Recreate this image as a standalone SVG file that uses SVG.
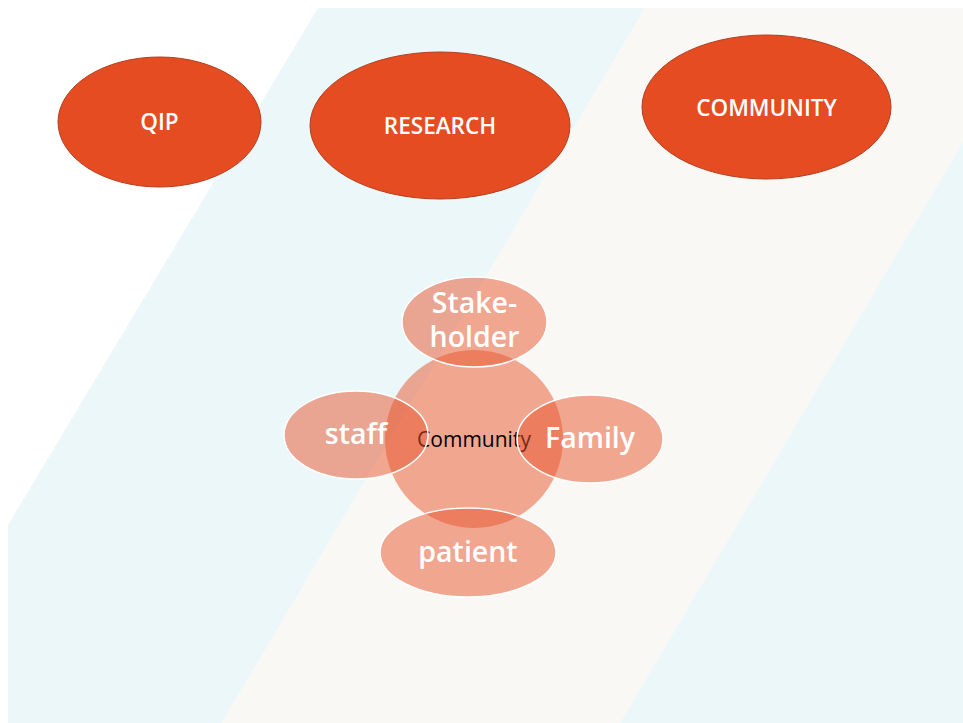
<svg xmlns="http://www.w3.org/2000/svg" width="963" height="723" viewBox="0 0 963 723">
<style>
.top{fill:#e54c22;stroke:#b53d1c;stroke-width:1}
.toplbl{font-family:"Open Sans","Noto Sans",sans-serif;font-weight:600;font-size:22.5px;fill:#ffffff;text-anchor:middle}
.hub{fill:#e8532c;fill-opacity:0.5;stroke:none}
.sat{fill:#e8532c;fill-opacity:0.5;stroke:#ffffff;stroke-width:1.5}
.satlbl{font-family:"Open Sans","Noto Sans",sans-serif;font-weight:600;font-size:28.5px;fill:#ffffff;text-anchor:middle}
.hublbl{font-family:"Open Sans","Noto Sans",sans-serif;font-size:21px;fill:#000000;text-anchor:middle}
</style>
<rect x="0" y="0" width="963" height="723" fill="#ffffff"/>
<g id="background">
<polygon points="318,8 645,8 222,723 8,723 8,525" fill="#ebf7f9"/>
<polygon points="645,8 963,8 963,142 620,723 222,723" fill="#faf8f4"/>
<polygon points="963,142 963,723 620,723" fill="#ebf7f9"/>
</g>
<g id="qip">
<ellipse class="top" cx="159.5" cy="122" rx="101.5" ry="65"/>
<text class="toplbl" x="159.5" y="130">QIP</text>
</g>
<g id="research">
<ellipse class="top" cx="440" cy="125.5" rx="130" ry="73.5"/>
<text class="toplbl" x="440" y="133.5">RESEARCH</text>
</g>
<g id="community-top">
<ellipse class="top" cx="766.5" cy="107" rx="124.5" ry="72"/>
<text class="toplbl" x="766.5" y="115.5">COMMUNITY</text>
</g>
<g id="connectors"></g>
<g id="community-hub">
<circle class="hub" cx="474" cy="439" r="89"/>
<text class="hublbl" x="474" y="446.5">Community</text>
</g>
<g id="stakeholder">
<ellipse class="sat" cx="474.5" cy="322" rx="72.5" ry="45"/>
<text class="satlbl" x="474.5" y="313">Stake-</text>
<text class="satlbl" x="474.5" y="347">holder</text>
</g>
<g id="staff">
<ellipse class="sat" cx="356" cy="435" rx="72" ry="44"/>
<text class="satlbl" x="356" y="444">staff</text>
</g>
<g id="family">
<ellipse class="sat" cx="590" cy="439" rx="73" ry="44"/>
<text class="satlbl" x="590" y="448">Family</text>
</g>
<g id="patient">
<ellipse class="sat" cx="468" cy="552.5" rx="88" ry="44.5"/>
<text class="satlbl" x="468" y="562">patient</text>
</g>
</svg>
